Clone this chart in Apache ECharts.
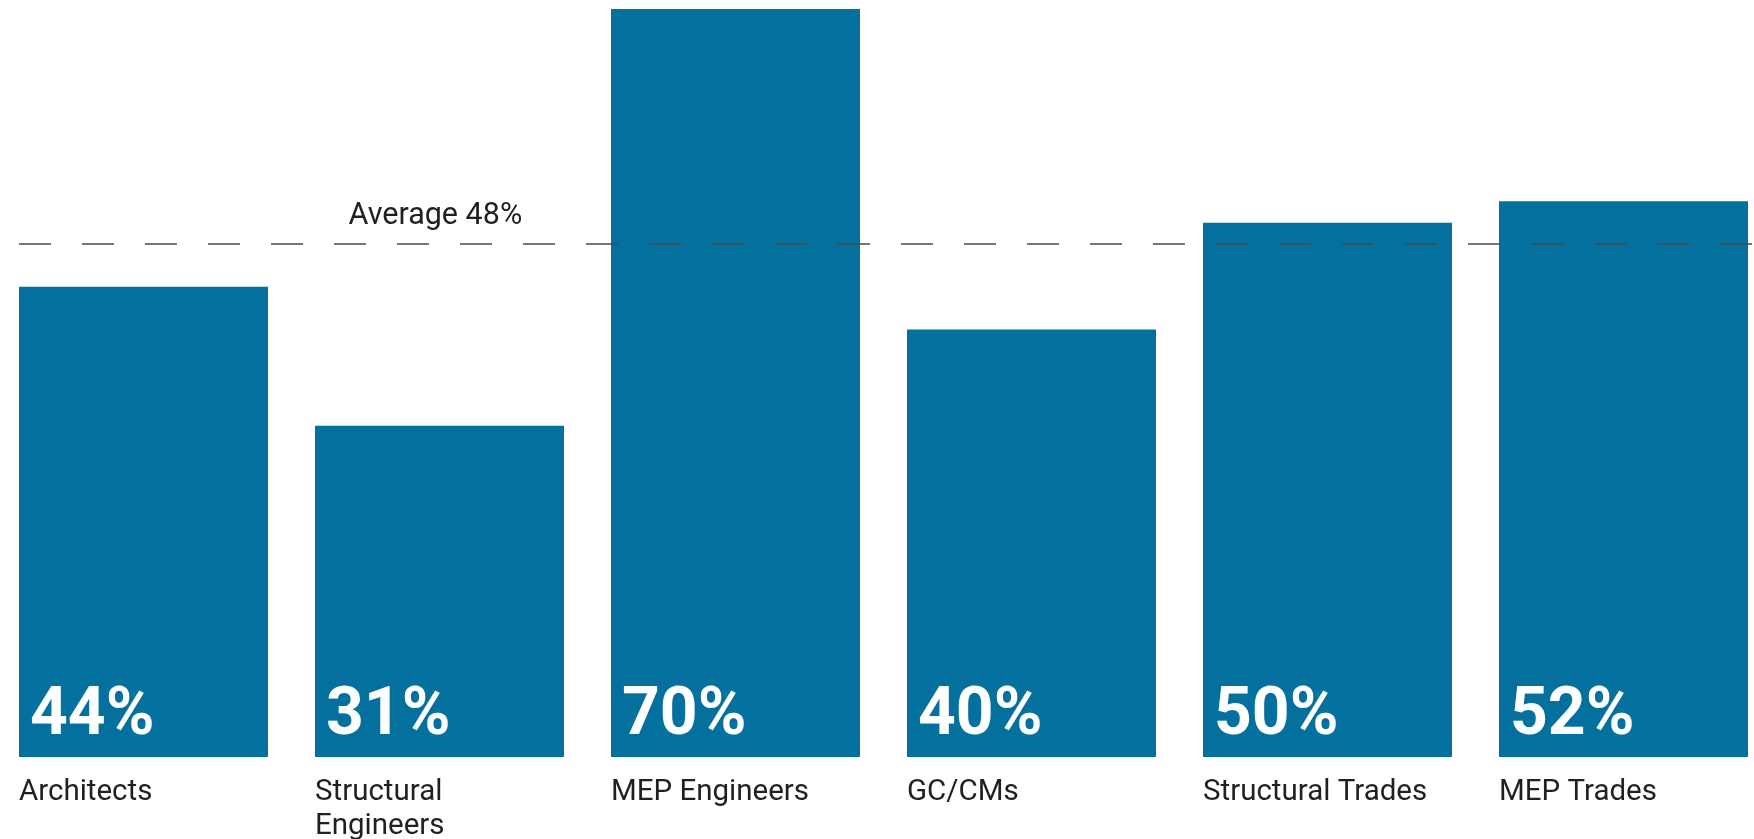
<!DOCTYPE html>
<html>
<head>
<meta charset="utf-8">
<script src="https://cdn.jsdelivr.net/npm/echarts@6/dist/echarts.min.js"></script>
<style>
html,body{margin:0;padding:0;background:#fff;}
#chart{width:1754px;height:839px;}
</style>
</head>
<body>
<div id="chart"></div>
<script>
var categories = ['Architects', 'Structural\nEngineers', 'MEP Engineers', 'GC/CMs', 'Structural Trades', 'MEP Trades'];
var values = [44, 31, 70, 40, 50, 52];
var average = 48;

var chart = echarts.init(document.getElementById('chart'), null, {renderer: 'canvas'});
chart.setOption({
  animation: false,
  backgroundColor: '#ffffff',
  grid: [
    {left: 143.5, right: 130.5, top: 9, bottom: 82, containLabel: false, outerBoundsMode: 'none'},
    {left: 19, right: 0, top: 9, bottom: 82, containLabel: false, outerBoundsMode: 'none'}
  ],
  xAxis: [{
    type: 'category',
    gridIndex: 0,
    data: categories,
    boundaryGap: false,
    axisLine: {show: false},
    axisTick: {show: false},
    splitLine: {show: false},
    axisLabel: {
      interval: 0,
      margin: 18,
      align: 'center',
      formatter: function (v) {
        return v.split('\n').map(function (s) { return '{n|' + s + '}'; }).join('\n');
      },
      rich: {
        n: {width: 249, align: 'left', fontFamily: 'Roboto', fontSize: 29.5, color: '#231f20', lineHeight: 34.5}
      }
    }
  }, {
    type: 'value',
    gridIndex: 1,
    min: 0,
    max: 1,
    show: false
  }],
  yAxis: [{
    type: 'value',
    gridIndex: 0,
    min: 0,
    max: 70,
    show: false,
    splitLine: {show: false}
  }, {
    type: 'value',
    gridIndex: 1,
    min: 0,
    max: 70,
    show: false,
    splitLine: {show: false}
  }],
  series: [{
    type: 'bar',
    xAxisIndex: 0,
    yAxisIndex: 0,
    data: values,
    barWidth: 249,
    clip: false,
    itemStyle: {color: '#03709d'},
    label: {
      show: true,
      position: [11, '100%'],
      verticalAlign: 'bottom',
      align: 'left',
      offset: [0, -6],
      formatter: '{c}%',
      fontFamily: 'Roboto',
      fontWeight: 'bold',
      fontSize: 66,
      lineHeight: 68,
      color: '#ffffff'
    }
  }, {
    type: 'line',
    xAxisIndex: 1,
    yAxisIndex: 1,
    data: [[0, average]],
    showSymbol: false,
    symbol: 'none',
    silent: true,
    z: 10,
    markLine: {
      silent: true,
      symbol: ['none', 'none'],
      animation: false,
      z: 10,
      lineStyle: {color: '#4a4a4a', width: 1.5, type: [32, 31], dashOffset: 0},
      label: {
        show: true,
        position: 'insideStartTop',
        distance: [329.5, 12.5],
        formatter: 'Average ' + average + '%',
        fontFamily: 'Roboto',
        fontSize: 30.5,
        lineHeight: 30,
        color: '#231f20'
      },
      data: [{yAxis: average}]
    }
  }]
});
</script>
</body>
</html>
